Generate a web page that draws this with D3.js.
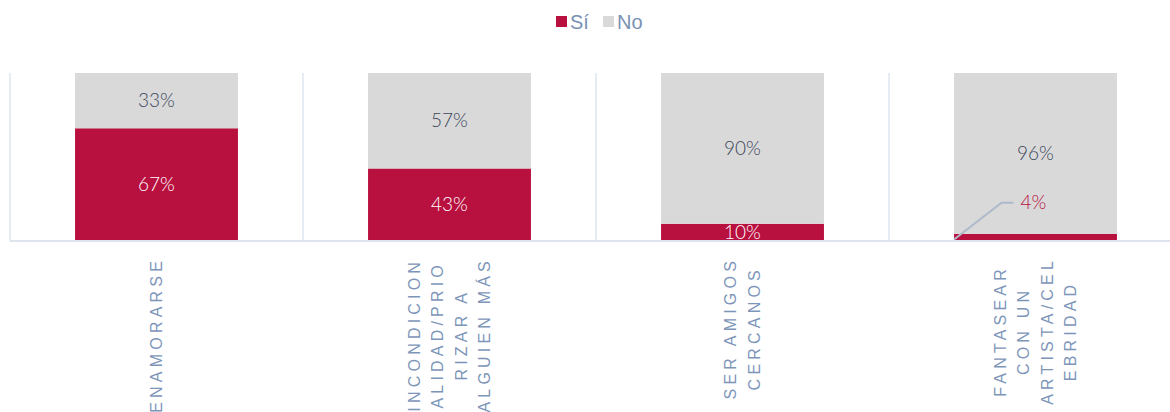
<!DOCTYPE html>
<html>
<head>
<meta charset="utf-8">
<script src="https://cdn.jsdelivr.net/npm/d3@7"></script>
<style>
  html, body { margin: 0; padding: 0; background: #fff; }
  svg { display: block; }
</style>
</head>
<body>
<svg id="chart" width="1170" height="412"></svg>
<script>
const categories = ["ENAMORARSE", "INCONDICIONALIDAD/PRIORIZAR A ALGUIEN MÁS", "SER AMIGOS CERCANOS", "FANTASEAR CON UN ARTISTA/CELEBRIDAD"];
const tickLines = [
  ["ENAMORARSE"],
  ["INCONDICION", "ALIDAD/PRIO", "RIZAR A", "ALGUIEN MÁS"],
  ["SER AMIGOS", "CERCANOS"],
  ["FANTASEAR", "CON UN", "ARTISTA/CEL", "EBRIDAD"]
];
const seriesNames = ["Sí", "No"];
const siValues = [67, 43, 10, 4];
const noValues = [33, 57, 90, 96];
const colors = ["#b8103f", "#d9d9d9"];

const svg = d3.select("#chart");

const x = d3.scaleBand().domain(categories).range([10, 1182]).paddingInner(0.444).paddingOuter(0.222);
const y = d3.scaleLinear().domain([0, 100]).range([240.5, 73]);

const rows = categories.map((c, i) => ({ cat: c, si: siValues[i], no: noValues[i], lines: tickLines[i] }));
const stack = d3.stack().keys(["si", "no"])(rows);

// gridlines at category boundaries
const step = x.step();
const boundaries = d3.range(categories.length + 1).map(i => x.range()[0] + i * step);
svg.append("g").selectAll("line").data(boundaries).join("line")
  .attr("x1", d => d).attr("x2", d => d)
  .attr("y1", y(100)).attr("y2", y(0))
  .attr("stroke", "#dfe5ef").attr("stroke-width", 1.5);

// bars
const layers = svg.append("g").selectAll("g").data(stack).join("g")
  .attr("fill", (d, i) => colors[i]);
layers.selectAll("rect").data(d => d).join("rect")
  .attr("x", d => x(d.data.cat))
  .attr("width", x.bandwidth())
  .attr("y", d => y(d[1]))
  .attr("height", d => y(d[0]) - y(d[1]));

// baseline
svg.append("line").attr("x1", 10).attr("x2", 1170).attr("y1", 241).attr("y2", 241)
  .attr("stroke", "#dfe5ef").attr("stroke-width", 2);

// value labels
const labelFont = "Lato, 'Open Sans', sans-serif";
stack.forEach((layer, li) => {
  layer.forEach((d, i) => {
    const v = d[1] - d[0];
    const cx = x(d.data.cat) + x.bandwidth() / 2;
    if (li === 0 && v < 5) {
      // outside label with leader line
      const x0 = x(d.data.cat), y0 = y(0) - 1;
      const lx = cx - 22, ly = y(22.5);
      svg.append("polyline")
        .attr("points", `${x0},${y0} ${lx - 12},${ly} ${lx},${ly}`)
        .attr("fill", "none").attr("stroke", "#adbacb").attr("stroke-width", 2);
      svg.append("text").attr("x", lx + 7).attr("y", ly)
        .attr("dy", "0.35em").attr("font-family", labelFont).attr("font-weight", 300)
        .attr("font-size", 19).attr("fill", "#b8103f").text(v + "%");
    } else {
      svg.append("text").attr("x", cx).attr("y", (y(d[0]) + y(d[1])) / 2)
        .attr("dy", "0.35em").attr("text-anchor", "middle")
        .attr("font-family", labelFont).attr("font-weight", 300)
        .attr("font-size", 19).attr("fill", li === 0 ? "#ffffff" : "#3b4759")
        .text(v + "%");
    }
  });
});

// category tick labels (rotated, multiline, centered)
const lineGap = 23.5;
rows.forEach(r => {
  const cx = x(r.cat) + x.bandwidth() / 2;
  const g = svg.append("g");
  const texts = r.lines.map((ln, j) => g.append("text")
    .attr("font-family", "'Liberation Sans', Arial, sans-serif")
    .attr("font-size", 16).attr("letter-spacing", "4.2px")
    .attr("fill", "#7d95b9").attr("text-anchor", "middle").text(ln));
  const maxL = d3.max(texts, t => t.node().getComputedTextLength());
  const n = r.lines.length;
  texts.forEach((t, j) => {
    const off = (j - (n - 1) / 2) * lineGap;
    t.attr("transform", `translate(${cx + off + 5.5},${257 + maxL / 2}) rotate(-90)`);
  });
});

// legend
const legend = svg.append("g");
const items = [{ name: seriesNames[0], x: 556 }, { name: seriesNames[1], x: 603 }];
items.forEach((it, i) => {
  legend.append("rect").attr("x", it.x).attr("y", 16).attr("width", 11).attr("height", 11).attr("fill", colors[i]);
  legend.append("text").attr("x", it.x + 14).attr("y", 22).attr("dy", "0.35em")
    .attr("font-family", "'Liberation Sans', Arial, sans-serif").attr("font-size", 20)
    .attr("fill", "#7b91b3").text(it.name);
});
</script>
</body>
</html>
